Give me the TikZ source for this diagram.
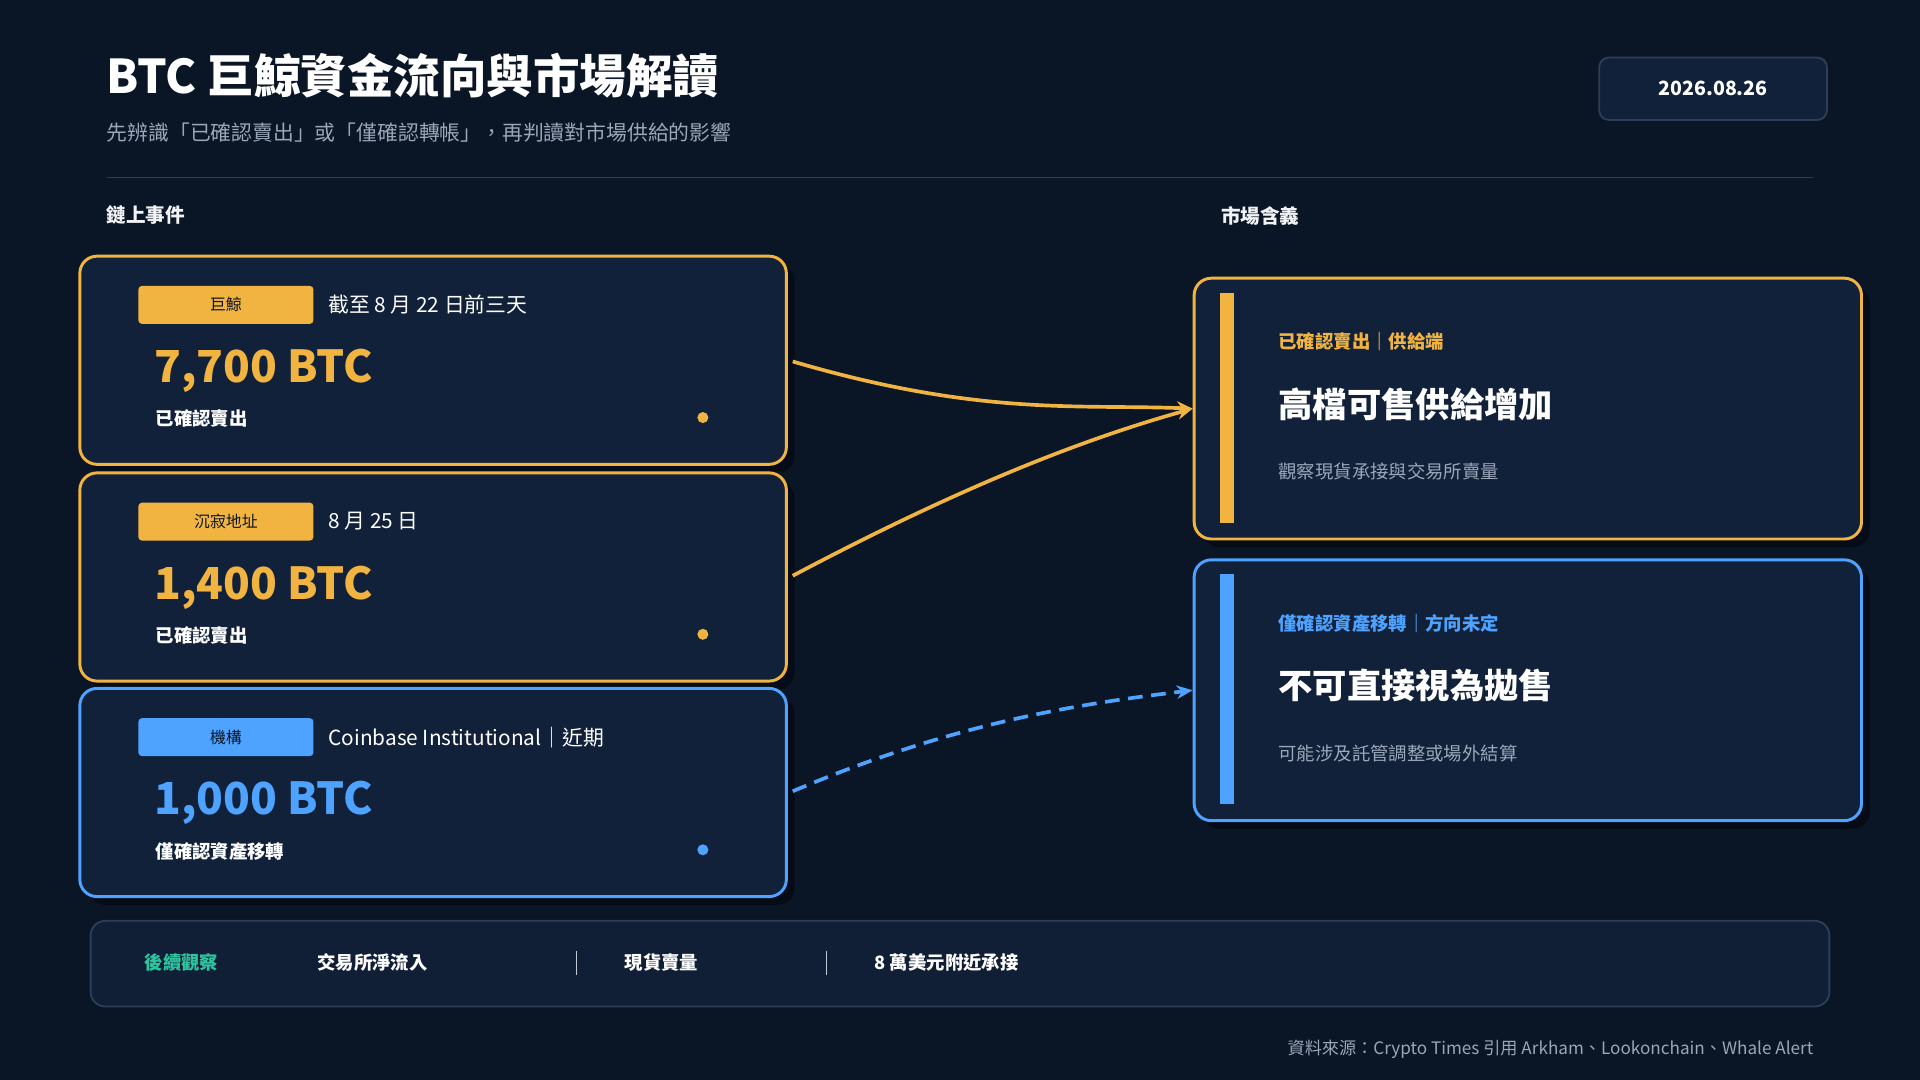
\documentclass[tikz,border=0pt]{standalone}
\usepackage{fontspec}
\setmainfont{Noto Sans CJK TC}
\usepackage{tikz}
\usetikzlibrary{arrows.meta,positioning,calc}
\definecolor{bgc}{HTML}{0A1526}
\definecolor{cardc}{HTML}{11213A}
\definecolor{shadc}{HTML}{050C17}
\definecolor{orgc}{HTML}{F2B441}
\definecolor{bluc}{HTML}{4DA3FF}
\definecolor{grayc}{HTML}{9AA7B8}
\definecolor{linec}{HTML}{2C3F57}
\definecolor{grnc}{HTML}{2EC4A0}
\tikzset{
  card/.style={draw=#1,line width=2.4pt,rounded corners=14pt,fill=cardc},
  tag/.style={fill=#1,rounded corners=3pt,minimum width=143pt,minimum height=31pt,
    inner sep=0pt,text=bgc,font=\fontsize{13}{13}\selectfont},
  txt/.style={anchor=west,inner sep=0pt,text=white,font=\fontsize{17}{17}\selectfont},
  big/.style={anchor=west,inner sep=0pt,text=#1,font=\fontsize{36}{36}\selectfont\bfseries},
  sub/.style={anchor=west,inner sep=0pt,text=white,font=\fontsize{15}{15}\selectfont\bfseries},
  flow/.style={line width=3pt,-{Stealth[length=13pt,width=11pt]}}
}
\begin{document}
\begin{tikzpicture}[x=1pt,y=-1pt]
  \fill[bgc] (0,0) rectangle (1568,882);
  \useasboundingbox (0,0) rectangle (1568,882);
  % header
  \node[txt,font=\fontsize{38}{38}\selectfont\bfseries] (title) at (87,62) {BTC 巨鯨資金流向與市場解讀};
  \node[txt,text=grayc] (subt) at (87,108) {先辨識「已確認賣出」或「僅確認轉帳」，再判讀對市場供給的影響};
  \draw[fill=cardc,draw=linec,line width=1.5pt,rounded corners=8pt] (1306,47) rectangle (1492,98);
  \node[text=white,font=\fontsize{16}{16}\selectfont\bfseries] (date) at (1399,72) {2026.08.26};
  \draw[linec,line width=1.2pt] (87,145) -- (1481,145);
  \node[txt,text=white!85!grayc,font=\fontsize{16}{16}\selectfont\bfseries] (lhead) at (87,176) {鏈上事件};
  \node[txt,text=white!85!grayc,font=\fontsize{16}{16}\selectfont\bfseries] (rhead) at (997,176) {市場含義};
  % left cards
  \foreach \y/\c/\t/\d/\n/\s/\nm in {208/orgc/巨鯨/截至 8 月 22 日前三天/{7,700 BTC}/已確認賣出/a,
      385/orgc/沉寂地址/8 月 25 日/{1,400 BTC}/已確認賣出/b,
      561/bluc/機構/Coinbase Institutional｜近期/{1,000 BTC}/僅確認資產移轉/c}{
    \fill[shadc,rounded corners=14pt] (72,\y+8) rectangle (649,\y+178);
    \node[card=\c,minimum width=577pt,minimum height=170pt,anchor=north west] (ev\nm) at (64,\y) {};
    \node[tag=\c] (tag\nm) at (184.5,\y+41) {\t};
    \node[txt] (date\nm) at (268,\y+41) {\d};
    \node[big=\c] (amt\nm) at (126,\y+95) {\n};
    \node[sub] (note\nm) at (127,\y+134) {\s};
    \fill[\c] (574,\y+133) circle (4.5pt);
  }
  % right cards
  \foreach \y/\c/\l/\h/\n/\nm in {226/orgc/已確認賣出｜供給端/高檔可售供給增加/觀察現貨承接與交易所賣量/p,
      456/bluc/僅確認資產移轉｜方向未定/不可直接視為拋售/可能涉及託管調整或場外結算/q}{
    \fill[shadc,rounded corners=14pt] (982,\y+8) rectangle (1527,\y+221);
    \node[card=\c,minimum width=545pt,minimum height=213pt,anchor=north west] (im\nm) at (974,\y) {};
    \fill[\c] (996,\y+13) rectangle (1008,\y+201);
    \node[txt,text=\c,font=\fontsize{15}{15}\selectfont\bfseries] (lab\nm) at (1044,\y+53) {\l};
    \node[txt,font=\fontsize{28}{28}\selectfont\bfseries] (head\nm) at (1044,\y+104) {\h};
    \node[txt,text=grayc,font=\fontsize{15}{15}\selectfont] (sub\nm) at (1044,\y+159) {\n};
  }
  % flows
  \draw[flow,orgc] ($(eva.east)+(4,1)$) .. controls (800,340) and (880,330) .. (imp.west);
  \draw[flow,orgc] ($(evb.east)+(4,-1)$) .. controls (780,400) and (880,360) .. (imp.west);
  \draw[flow,bluc,dash pattern=on 12pt off 7pt] ($(evc.east)+(4,-1)$) .. controls (780,590) and (880,575) .. (imq.west);
  % watch bar
  \draw[fill=cardc!80!bgc,draw=linec,line width=1.5pt,rounded corners=12pt] (74,752) rectangle (1494,822);
  \node[txt,text=grnc,font=\fontsize{15}{15}\selectfont\bfseries] (watch) at (118,786) {後續觀察};
  \node[sub] (w1) at (259,786) {交易所淨流入};
  \node[sub] (w2) at (510,786) {現貨賣量};
  \node[sub] (w3) at (714,786) {8 萬美元附近承接};
  \draw[grayc!60,line width=1pt] (471,777) -- (471,796) (675,777) -- (675,796);
  \node[anchor=east,inner sep=0pt,text=grayc,font=\fontsize{14}{14}\selectfont] (src) at (1481,857)
    {資料來源：Crypto Times 引用 Arkham、Lookonchain、Whale Alert};
\end{tikzpicture}
\end{document}
